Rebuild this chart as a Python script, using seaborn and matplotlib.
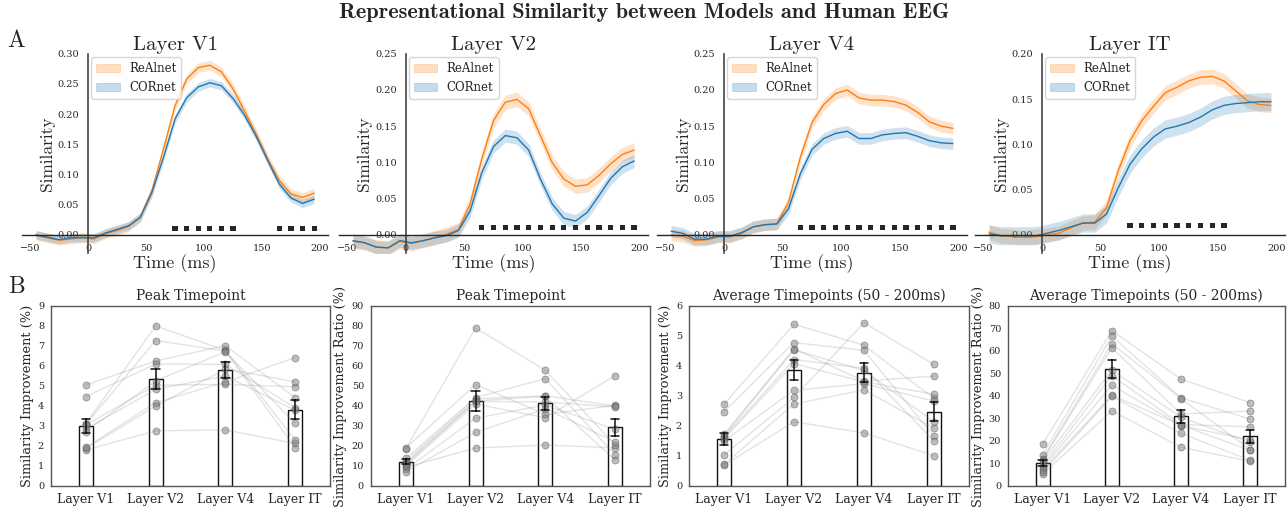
import numpy as np
import pandas as pd
import matplotlib
matplotlib.use("Agg")
import matplotlib.pyplot as plt
import seaborn as sns
from matplotlib.patches import Patch

sns.set_style("white")
plt.rcParams["font.family"] = ["DejaVu Serif"]

# ---------------- data ----------------
times = [-45, -35, -25, -15, -5, 5, 15, 25, 35, 45, 55, 65, 75, 85, 95,
         105, 115, 125, 135, 145, 155, 165, 175, 185, 195]
layers = ["Layer V1", "Layer V2", "Layer V4", "Layer IT"]

realnet_v1 = [-0.001, -0.005, -0.009, -0.007, -0.004, -0.007, 0.002, 0.007, 0.014, 0.029,
              0.073, 0.142, 0.214, 0.258, 0.277, 0.281, 0.270, 0.242, 0.205, 0.167,
              0.125, 0.090, 0.068, 0.062, 0.069]
cornet_v1 = [0.000, -0.004, -0.008, -0.005, -0.005, -0.005, 0.003, 0.009, 0.015, 0.029,
             0.070, 0.128, 0.192, 0.227, 0.245, 0.252, 0.247, 0.226, 0.198, 0.163,
             0.123, 0.084, 0.061, 0.052, 0.059]
realnet_v2 = [-0.009, -0.011, -0.017, -0.018, -0.009, -0.012, -0.008, -0.004, 0.001, 0.007,
              0.043, 0.105, 0.158, 0.183, 0.187, 0.174, 0.137, 0.100, 0.077, 0.067,
              0.069, 0.082, 0.098, 0.111, 0.117]
cornet_v2 = [-0.008, -0.011, -0.017, -0.018, -0.008, -0.011, -0.008, -0.004, -0.001, 0.006,
             0.033, 0.086, 0.122, 0.137, 0.134, 0.117, 0.077, 0.043, 0.023, 0.019,
             0.031, 0.054, 0.078, 0.094, 0.102]
realnet_v4 = [0.000, -0.002, -0.008, -0.007, -0.003, -0.003, 0.002, 0.011, 0.014, 0.015,
              0.045, 0.107, 0.155, 0.180, 0.195, 0.200, 0.189, 0.186, 0.186, 0.184,
              0.179, 0.169, 0.156, 0.150, 0.147]
cornet_v4 = [0.005, 0.002, -0.006, -0.006, -0.002, -0.002, 0.003, 0.011, 0.014, 0.015,
             0.036, 0.084, 0.118, 0.133, 0.140, 0.143, 0.133, 0.133, 0.138, 0.140,
             0.141, 0.136, 0.130, 0.127, 0.126]
realnet_it = [0.003, -0.001, -0.002, -0.003, -0.002, 0.000, 0.002, 0.008, 0.013, 0.014,
              0.030, 0.071, 0.104, 0.126, 0.142, 0.157, 0.163, 0.170, 0.174, 0.175,
              0.170, 0.159, 0.148, 0.144, 0.143]
cornet_it = [0.001, -0.001, -0.001, -0.001, -0.001, 0.002, 0.005, 0.009, 0.013, 0.013,
             0.023, 0.052, 0.078, 0.095, 0.108, 0.117, 0.120, 0.124, 0.130, 0.138,
             0.143, 0.145, 0.146, 0.147, 0.147]

realnet_ci = [0.008, 0.010, 0.008, 0.008]
cornet_ci = [0.007, 0.009, 0.008, 0.010]
y_max = [0.30, 0.25, 0.25, 0.20]

sig_v1 = [75, 85, 95, 105, 115, 125, 165, 175, 185, 195]
sig_v2 = [65, 75, 85, 95, 105, 115, 125, 135, 145, 155, 165, 175, 185, 195]
sig_v4 = [65, 75, 85, 95, 105, 115, 125, 135, 145, 155, 165, 175, 185, 195]
sig_it = [75, 85, 95, 105, 115, 125, 135, 145, 155]

# per-subject values (10 subjects), one list per layer
peak_improvement = [
    [1.80, 5.05, 4.47, 3.12, 3.08, 3.05, 2.85, 2.72, 1.93, 1.88],
    [2.76, 6.25, 6.10, 8.00, 7.27, 5.04, 4.83, 5.25, 4.16, 3.99],
    [2.80, 7.02, 6.08, 6.78, 6.75, 5.08, 5.50, 6.72, 5.20, 5.85],
    [2.13, 4.41, 3.91, 2.30, 1.91, 4.96, 3.79, 3.13, 6.42, 5.21],
]
peak_ratio = [
    [9.3, 18.6, 19.0, 13.8, 12.5, 11.5, 10.8, 10.0, 8.3, 7.2],
    [19.0, 79.0, 50.7, 44.2, 43.6, 42.5, 42.3, 41.0, 33.9, 26.8],
    [20.5, 57.9, 35.8, 53.7, 45.1, 44.8, 42.0, 34.1, 40.5, 38.6],
    [19.0, 20.5, 40.3, 15.5, 40.0, 13.0, 39.6, 55.2, 28.3, 22.1],
]
avg_improvement = [
    [0.69, 2.72, 2.47, 1.72, 1.66, 1.62, 1.57, 1.50, 1.03, 0.72],
    [2.14, 5.39, 4.78, 4.57, 4.54, 4.21, 4.08, 3.19, 2.95, 2.73],
    [1.77, 4.69, 4.52, 3.50, 3.85, 3.93, 3.47, 3.41, 5.44, 3.20],
    [1.01, 2.92, 1.66, 3.66, 2.14, 1.50, 3.06, 2.83, 4.05, 1.92],
]
avg_ratio = [
    [5.3, 18.5, 13.8, 12.0, 11.6, 10.8, 9.0, 8.0, 7.1, 6.0],
    [33.4, 69.0, 66.6, 63.3, 61.4, 51.5, 49.0, 44.8, 40.3, 39.8],
    [17.2, 47.5, 39.2, 38.8, 32.0, 30.5, 27.3, 26.8, 27.0, 23.4],
    [11.0, 37.0, 29.7, 16.2, 33.3, 19.4, 26.3, 20.5, 15.8, 11.4],
]

C_RE = "#ff7f0e"
C_CO = "#1f77b4"

# ---------------- figure ----------------
fig = plt.figure(figsize=(12.88, 5.12), dpi=100)

fig.text(0.5, 0.975, "Representational Similarity between Models and Human EEG",
         ha="center", va="center", fontsize=16, fontfamily="cmb10")
fig.text(0.006, 0.92, "A", fontsize=17, fontfamily="cmr10", va="center")
fig.text(0.006, 0.44, "B", fontsize=17, fontfamily="cmr10", va="center")

top_pos = [[0.0171, 0.506, 0.2376, 0.389],
           [0.2632, 0.506, 0.2400, 0.389],
           [0.5101, 0.506, 0.2407, 0.389],
           [0.7570, 0.506, 0.2407, 0.389]]
top_data = [(realnet_v1, cornet_v1, sig_v1), (realnet_v2, cornet_v2, sig_v2),
            (realnet_v4, cornet_v4, sig_v4), (realnet_it, cornet_it, sig_it)]

for i, (re_vals, co_vals, sig) in enumerate(top_data):
    ax = fig.add_axes(top_pos[i])
    re_arr = np.array(re_vals)
    co_arr = np.array(co_vals)
    ax.fill_between(times, re_arr - realnet_ci[i], re_arr + realnet_ci[i],
                    color=C_RE, alpha=0.22, lw=0)
    ax.fill_between(times, co_arr - cornet_ci[i], co_arr + cornet_ci[i],
                    color=C_CO, alpha=0.22, lw=0)
    sns.lineplot(x=times, y=re_vals, color=C_RE, lw=1.0, ax=ax)
    sns.lineplot(x=times, y=co_vals, color=C_CO, lw=1.0, ax=ax)
    sns.scatterplot(x=sig, y=[0.01] * len(sig), marker="s", s=14, color="#262626",
                    edgecolor="none", ax=ax, zorder=5)
    ax.set_ylim(-0.1 * y_max[i], y_max[i])
    ax.set_xticks([-50, 0, 50, 100, 150, 200])
    ax.set_yticks(np.round(np.arange(0, y_max[i] + 1e-9, 0.05), 2))
    ax.spines["left"].set_position(("data", 0))
    ax.spines["bottom"].set_position(("data", 0))
    ax.spines["top"].set_visible(False)
    ax.spines["right"].set_visible(False)
    ax.spines["left"].set_color("#444444")
    ax.spines["left"].set_linewidth(1.2)
    ax.spines["bottom"].set_linewidth(1.0)
    ax.tick_params(labelsize=7, length=3, width=0.8)
    ax.set_title(layers[i], fontfamily="cmr10", fontsize=15, pad=3)
    ax.set_xlabel("Time (ms)", fontfamily="cmr10", fontsize=13, labelpad=1)
    ax.set_ylabel("Similarity", fontfamily="cmr10", fontsize=12.5, labelpad=2)
    handles = [Patch(facecolor=C_RE, alpha=0.25, edgecolor=C_RE, lw=0.6),
               Patch(facecolor=C_CO, alpha=0.25, edgecolor=C_CO, lw=0.6)]
    ax.legend(handles, ["ReAlnet", "CORnet"], loc="upper left",
              bbox_to_anchor=(0.215, 1.0), fontsize=8.5, frameon=True,
              borderaxespad=0.3)

bot_pos = [[0.0396, 0.0508, 0.2166, 0.3516],
           [0.2880, 0.0508, 0.2166, 0.3516],
           [0.5349, 0.0508, 0.2174, 0.3516],
           [0.7826, 0.0508, 0.2150, 0.3516]]
bot_data = [peak_improvement, peak_ratio, avg_improvement, avg_ratio]
bot_titles = ["Peak Timepoint", "Peak Timepoint",
              "Average Timepoints (50 - 200ms)", "Average Timepoints (50 - 200ms)"]
bot_ylabels = ["Similarity Improvement (%)", "Similarity Improvement Ratio (%)",
               "Similarity Improvement (%)", "Similarity Improvement Ratio (%)"]
bot_ylim = [9, 90, 6, 80]
bot_step = [1, 10, 1, 10]

for i, vals in enumerate(bot_data):
    ax = fig.add_axes(bot_pos[i])
    n_sub = len(vals[0])
    df = pd.DataFrame({
        "layer": np.repeat(layers, n_sub),
        "subject": np.tile(np.arange(n_sub), len(layers)),
        "value": np.concatenate([np.array(v) for v in vals]),
    })
    df["pos"] = df["layer"].map({l: k for k, l in enumerate(layers)})
    sns.barplot(data=df, x="layer", y="value", order=layers, errorbar="se",
                width=0.2, color="white", edgecolor="#111111", linewidth=1.0,
                capsize=0.12, err_kws={"color": "#111111", "linewidth": 1.1, "zorder": 6},
                ax=ax, zorder=1)
    sns.lineplot(data=df, x="pos", y="value", units="subject", estimator=None,
                 color="gray", alpha=0.22, lw=1.0, ax=ax, legend=False, zorder=2)
    sns.stripplot(data=df, x="layer", y="value", order=layers, jitter=False,
                  color="gray", alpha=0.5, size=5, linewidth=0.6, edgecolor="gray",
                  ax=ax, zorder=3)
    ax.set_xlim(-0.5, 3.5)
    ax.set_ylim(0, bot_ylim[i])
    ax.set_yticks(np.arange(0, bot_ylim[i] + 1e-9, bot_step[i]))
    ax.set_xticks(range(len(layers)))
    ax.set_xticklabels(layers)
    for s in ax.spines.values():
        s.set_visible(True)
        s.set_color("#555555")
        s.set_linewidth(1.0)
    ax.tick_params(axis="x", labelsize=9, length=3, pad=2)
    ax.tick_params(axis="y", labelsize=7, length=3, pad=2)
    ax.set_title(bot_titles[i], fontsize=10, pad=4)
    ax.set_xlabel("")
    ax.set_ylabel(bot_ylabels[i], fontsize=9.3, labelpad=3)

fig.savefig("out.png", dpi=100)
